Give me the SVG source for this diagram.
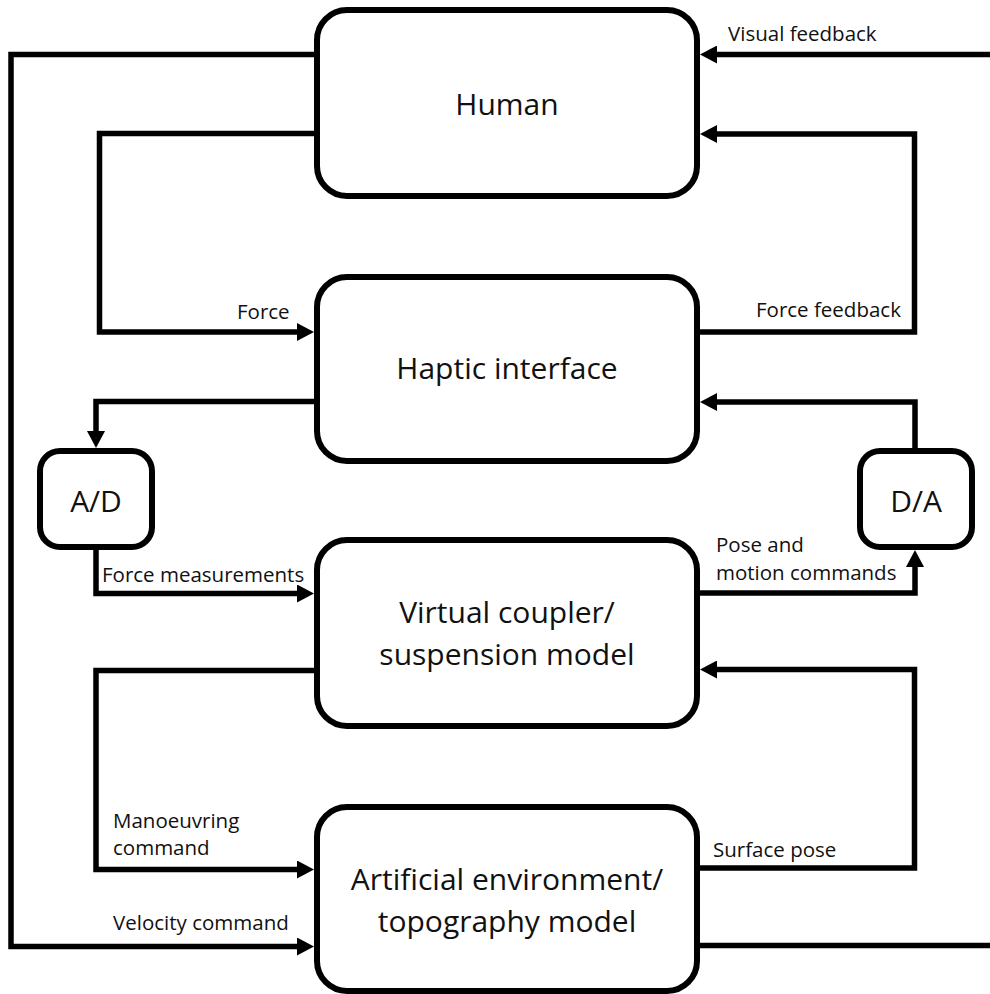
<svg xmlns="http://www.w3.org/2000/svg" width="990" height="994" viewBox="0 0 990 994">
  <style>
    .box { fill: #fff; stroke: #000; stroke-width: 6; }
    .wire { fill: none; stroke: #000; stroke-width: 5.5; stroke-linejoin: miter; stroke-linecap: butt; }
    .title { font-family: "Open Sans", "Noto Sans", sans-serif; font-size: 30px; fill: #111; text-anchor: middle; }
    .label { font-family: "Open Sans", "Noto Sans", sans-serif; font-size: 20.5px; fill: #111; }
  </style>
  <defs>
    <marker id="arrow" viewBox="0 0 17 18" refX="0" refY="9" markerWidth="17" markerHeight="18" markerUnits="userSpaceOnUse" orient="auto">
      <path d="M0,0 L17,9 L0,18 Z" fill="#000"/>
    </marker>
  </defs>
  <rect width="990" height="994" fill="#fff"/>

  <!-- connectors -->
  <g id="connectors">
    <!-- Human -> velocity command -> environment -->
    <path class="wire" d="M317,54.5 H11 V946.5 H297" marker-end="url(#arrow)"/>
    <!-- Human -> force -> haptic interface -->
    <path class="wire" d="M317,133.5 H99.5 V332 H297" marker-end="url(#arrow)"/>
    <!-- haptic interface -> A/D -->
    <path class="wire" d="M317,401.5 H96 V431" marker-end="url(#arrow)"/>
    <!-- A/D -> force measurements -> coupler -->
    <path class="wire" d="M96,547 V593.5 H297" marker-end="url(#arrow)"/>
    <!-- haptic interface -> force feedback -> Human -->
    <path class="wire" d="M697,332 H914.5 V134 H717" marker-end="url(#arrow)"/>
    <!-- D/A -> haptic interface -->
    <path class="wire" d="M915,451 V402 H717" marker-end="url(#arrow)"/>
    <!-- coupler -> pose and motion commands -> D/A -->
    <path class="wire" d="M697,593 H915 V567" marker-end="url(#arrow)"/>
    <!-- coupler -> manoeuvring command -> environment -->
    <path class="wire" d="M317,670.5 H96 V869.5 H297" marker-end="url(#arrow)"/>
    <!-- environment -> surface pose -> coupler -->
    <path class="wire" d="M697,868 H914.5 V669.5 H717" marker-end="url(#arrow)"/>
    <!-- environment -> visual feedback -> Human -->
    <path class="wire" d="M697,945.5 H1000 V54.5 H717" marker-end="url(#arrow)"/>

    <text class="label" x="728" y="41">Visual feedback</text>
    <text class="label" x="237" y="319">Force</text>
    <text class="label" x="756" y="317">Force feedback</text>
    <text class="label" x="102" y="582">Force measurements</text>
    <text class="label" x="716" y="552">Pose and</text>
    <text class="label" x="716" y="580">motion commands</text>
    <text class="label" x="113" y="828">Manoeuvring</text>
    <text class="label" x="113" y="855">command</text>
    <text class="label" x="113" y="930">Velocity command</text>
    <text class="label" x="713" y="857">Surface pose</text>
  </g>

  <g id="human">
    <rect class="box" x="317" y="10" width="380" height="186" rx="30" ry="30"/>
    <text class="title" x="507" y="115">Human</text>
  </g>
  <g id="haptic-interface">
    <rect class="box" x="317" y="277" width="380" height="184" rx="30" ry="30"/>
    <text class="title" x="507" y="379">Haptic interface</text>
  </g>
  <g id="virtual-coupler">
    <rect class="box" x="317" y="540" width="380" height="186" rx="30" ry="30"/>
    <text class="title" x="507" y="623">Virtual coupler/</text>
    <text class="title" x="507" y="665">suspension model</text>
  </g>
  <g id="artificial-environment">
    <rect class="box" x="317" y="807" width="380" height="184" rx="30" ry="30"/>
    <text class="title" x="507" y="890">Artificial environment/</text>
    <text class="title" x="507" y="932">topography model</text>
  </g>
  <g id="ad-converter">
    <rect class="box" x="40" y="451" width="112" height="96" rx="20" ry="20"/>
    <text class="title" x="96" y="512">A/D</text>
  </g>
  <g id="da-converter">
    <rect class="box" x="860" y="451" width="112" height="96" rx="20" ry="20"/>
    <text class="title" x="916" y="512">D/A</text>
  </g>
</svg>
